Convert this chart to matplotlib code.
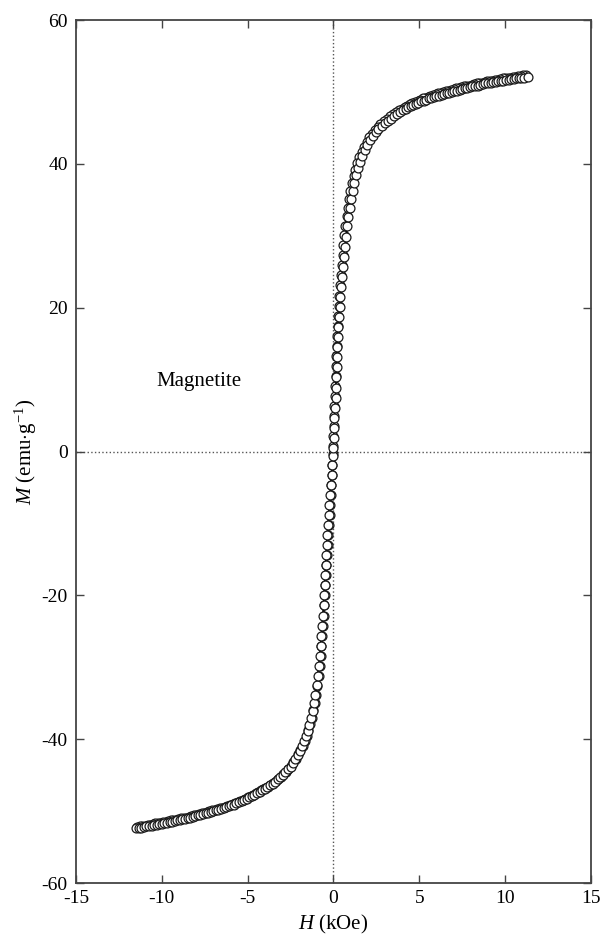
import matplotlib
matplotlib.use("Agg")
import matplotlib.pyplot as plt

# magnetization loop of magnetite
# ascending sweep (-H -> +H), negative half
H_neg = [-11.50, -11.35, -11.20, -11.05, -10.90, -10.75, -10.60, -10.45, -10.30, -10.15,
         -10.00, -9.85, -9.70, -9.55, -9.40, -9.25, -9.10, -8.95, -8.80, -8.65,
         -8.50, -8.35, -8.20, -8.05, -7.90, -7.75, -7.60, -7.45, -7.30, -7.15,
         -7.00, -6.85, -6.70, -6.55, -6.40, -6.25, -6.10, -5.95, -5.80, -5.65,
         -5.50, -5.35, -5.20, -5.05, -4.90, -4.75, -4.60, -4.45, -4.30, -4.15,
         -4.00, -3.85, -3.70, -3.55, -3.40, -3.25, -3.10, -2.95, -2.80, -2.65,
         -2.50, -2.36, -2.22, -2.09, -1.96, -1.84, -1.72, -1.61, -1.50, -1.40,
         -1.31, -1.22, -1.13, -1.05, -0.98, -0.92, -0.86, -0.80, -0.75, -0.70,
         -0.66, -0.62, -0.58, -0.55, -0.52, -0.49, -0.46, -0.43, -0.40, -0.36,
         -0.32, -0.28, -0.24, -0.20, -0.15, -0.10, -0.06, -0.03]
M_neg = [-52.4, -52.3, -52.3, -52.2, -52.1, -52.1, -52.0, -51.9, -51.9, -51.8,
         -51.8, -51.7, -51.6, -51.5, -51.5, -51.4, -51.3, -51.2, -51.1, -51.1,
         -51.0, -50.9, -50.8, -50.7, -50.6, -50.5, -50.4, -50.3, -50.2, -50.1,
         -50.0, -49.9, -49.8, -49.7, -49.6, -49.4, -49.3, -49.2, -49.1, -48.9,
         -48.8, -48.6, -48.5, -48.3, -48.1, -47.9, -47.7, -47.5, -47.3, -47.1,
         -46.9, -46.7, -46.4, -46.2, -45.9, -45.6, -45.3, -45.0, -44.6, -44.2,
         -43.8, -43.3, -42.8, -42.2, -41.6, -41.0, -40.3, -39.6, -38.8, -38.0,
         -37.1, -36.1, -35.0, -33.8, -32.5, -31.2, -29.8, -28.4, -27.0, -25.6,
         -24.2, -22.8, -21.4, -20.0, -18.6, -17.2, -15.8, -14.4, -13.0, -11.6,
         -10.2, -8.8, -7.4, -6.0, -4.6, -3.2, -1.8, -0.6]

# ascending sweep, positive half
H_pos = [0.00, 0.02, 0.04, 0.06, 0.09, 0.12, 0.14, 0.16, 0.18, 0.20,
         0.22, 0.25, 0.28, 0.32, 0.36, 0.40, 0.45, 0.50, 0.55, 0.61,
         0.67, 0.73, 0.80, 0.87, 0.95, 1.03, 1.12, 1.21, 1.31, 1.42,
         1.54, 1.67, 1.81, 1.96, 2.12, 2.28, 2.45, 2.62, 2.80, 2.98,
         3.16, 3.34, 3.52, 3.70, 3.88, 4.05, 4.20, 4.35, 4.50, 4.65,
         4.80, 4.95, 5.10, 5.25, 5.40, 5.55, 5.70, 5.85, 6.00, 6.15,
         6.30, 6.45, 6.60, 6.75, 6.90, 7.05, 7.20, 7.35, 7.50, 7.65,
         7.80, 7.95, 8.10, 8.25, 8.40, 8.55, 8.70, 8.85, 9.00, 9.15,
         9.30, 9.45, 9.60, 9.75, 9.90, 10.05, 10.20, 10.35, 10.50, 10.65,
         10.80, 10.95, 11.10, 11.33]
M_pos = [0.5, 1.9, 3.3, 4.7, 6.1, 7.5, 8.9, 10.3, 11.7, 13.1,
         14.5, 15.9, 17.3, 18.7, 20.1, 21.5, 22.9, 24.3, 25.7, 27.1,
         28.5, 29.9, 31.3, 32.6, 33.9, 35.1, 36.3, 37.4, 38.4, 39.4,
         40.3, 41.1, 41.9, 42.6, 43.3, 43.9, 44.4, 44.9, 45.3, 45.7,
         46.0, 46.3, 46.6, 46.9, 47.2, 47.5, 47.7, 47.9, 48.1, 48.2,
         48.4, 48.5, 48.7, 48.8, 48.9, 49.1, 49.2, 49.3, 49.4, 49.5,
         49.6, 49.7, 49.8, 49.9, 50.0, 50.1, 50.2, 50.3, 50.4, 50.5,
         50.6, 50.7, 50.8, 50.9, 50.9, 51.0, 51.1, 51.2, 51.2, 51.3,
         51.4, 51.4, 51.5, 51.6, 51.6, 51.7, 51.7, 51.8, 51.8, 51.9,
         51.9, 52.0, 52.0, 52.1]

# descending sweep (+H -> -H)
H_down = [11.20, 11.05, 10.90, 10.75, 10.60, 10.45, 10.30, 10.15, 10.00, 9.85,
          9.70, 9.55, 9.40, 9.25, 9.10, 8.95, 8.80, 8.65, 8.50, 8.35,
          8.20, 8.05, 7.90, 7.75, 7.60, 7.45, 7.30, 7.15, 7.00, 6.85,
          6.70, 6.55, 6.40, 6.25, 6.10, 5.95, 5.80, 5.65, 5.50, 5.35,
          5.20, 5.05, 4.90, 4.75, 4.60, 4.45, 4.30, 4.15, 4.00, 3.82,
          3.64, 3.46, 3.28, 3.10, 2.92, 2.74, 2.57, 2.40, 2.24, 2.08,
          1.93, 1.78, 1.64, 1.51, 1.39, 1.27, 1.17, 1.07, 0.98, 0.90,
          0.83, 0.76, 0.70, 0.64, 0.58, 0.53, 0.48, 0.43, 0.39, 0.35,
          0.31, 0.27, 0.24, 0.21, 0.18, 0.16, 0.14, 0.12, 0.10, 0.08,
          0.06, 0.04, 0.02, 0.00, -0.02, -0.04, -0.06, -0.09, -0.12, -0.15,
          -0.18, -0.22, -0.26, -0.30, -0.34, -0.37, -0.41, -0.44, -0.47, -0.50,
          -0.53, -0.57, -0.61, -0.65, -0.70, -0.75, -0.80, -0.86, -0.93, -1.00,
          -1.08, -1.17, -1.26, -1.36, -1.46, -1.57, -1.68, -1.80, -1.93, -2.06,
          -2.20, -2.34, -2.48, -2.62, -2.77, -2.92, -3.07, -3.22, -3.37, -3.52,
          -3.67, -3.82, -3.97, -4.08, -4.23, -4.38, -4.53, -4.68, -4.83, -4.98,
          -5.13, -5.28, -5.43, -5.58, -5.73, -5.88, -6.03, -6.18, -6.33, -6.48,
          -6.63, -6.78, -6.93, -7.08, -7.23, -7.38, -7.53, -7.68, -7.83, -7.98,
          -8.13, -8.28, -8.43, -8.58, -8.73, -8.88, -9.03, -9.18, -9.33, -9.48,
          -9.63, -9.78, -9.93, -10.08, -10.23, -10.38, -10.53, -10.68, -10.83, -10.98,
          -11.13, -11.28, -11.43]
M_down = [52.3, 52.3, 52.2, 52.2, 52.1, 52.1, 52.0, 52.0, 51.9, 51.9,
          51.8, 51.7, 51.7, 51.6, 51.5, 51.5, 51.4, 51.3, 51.2, 51.2,
          51.1, 51.0, 50.9, 50.8, 50.8, 50.7, 50.6, 50.5, 50.4, 50.3,
          50.2, 50.1, 50.0, 49.9, 49.8, 49.7, 49.6, 49.5, 49.3, 49.2,
          49.1, 48.9, 48.8, 48.6, 48.5, 48.3, 48.1, 47.9, 47.7, 47.5,
          47.2, 46.9, 46.6, 46.3, 45.9, 45.5, 45.1, 44.7, 44.2, 43.7,
          43.1, 42.4, 41.7, 40.9, 40.1, 39.2, 38.3, 37.3, 36.2, 35.1,
          33.9, 32.7, 31.4, 30.1, 28.7, 27.3, 25.9, 24.5, 23.1, 21.7,
          20.3, 18.9, 17.5, 16.1, 14.7, 13.3, 11.9, 10.5, 9.1, 7.7,
          6.3, 4.9, 3.5, 2.1, 0.8, -0.4, -1.8, -3.2, -4.6, -6.0,
          -7.4, -8.8, -10.2, -11.6, -13.0, -14.4, -15.8, -17.2, -18.6, -20.0,
          -21.4, -22.8, -24.2, -25.6, -27.0, -28.4, -29.8, -31.2, -32.6, -33.8,
          -35.0, -36.0, -37.0, -37.9, -38.7, -39.5, -40.2, -40.9, -41.5, -42.1,
          -42.7, -43.2, -43.7, -44.1, -44.5, -44.9, -45.2, -45.5, -45.8, -46.1,
          -46.3, -46.6, -46.8, -46.9, -47.1, -47.3, -47.5, -47.7, -47.9, -48.1,
          -48.3, -48.5, -48.6, -48.8, -48.9, -49.0, -49.1, -49.3, -49.4, -49.5,
          -49.6, -49.7, -49.8, -49.9, -50.0, -50.1, -50.2, -50.3, -50.4, -50.5,
          -50.6, -50.7, -50.8, -50.9, -50.9, -51.0, -51.1, -51.2, -51.3, -51.3,
          -51.4, -51.5, -51.5, -51.6, -51.7, -51.7, -51.8, -51.9, -51.9, -52.0,
          -52.1, -52.1, -52.2]

x_ticks = [-15, -10, -5, 0, 5, 10, 15]
y_ticks = [-60, -40, -20, 0, 20, 40, 60]

plt.rcParams['font.family'] = ['Liberation Serif', 'DejaVu Serif']
plt.rcParams['mathtext.fontset'] = 'custom'
plt.rcParams['mathtext.rm'] = 'Liberation Serif'
plt.rcParams['mathtext.it'] = 'Liberation Serif:italic'
plt.rcParams['axes.unicode_minus'] = False

fig = plt.figure(figsize=(6.03, 9.39), dpi=100)
ax = fig.add_axes([0.126, 0.0596, 0.854, 0.919])

H_up = H_neg + H_pos
M_up = M_neg + M_pos

ax.axhline(0, color='#555555', linestyle=':', linewidth=1.0, zorder=1)
ax.axvline(0, color='#555555', linestyle=':', linewidth=1.0, zorder=1)
style = dict(color='black', linewidth=1.3, marker='o', markersize=6.4,
             markerfacecolor='white', markeredgecolor='#1a1a1a',
             markeredgewidth=0.9, zorder=3)
ax.plot(H_down, M_down, **style)
ax.plot(H_up, M_up, **style)

ax.text(-10.3, 9.7, 'Magnetite', fontsize=15, ha='left', va='center')

ax.set_xlim(-15, 15)
ax.set_ylim(-60, 60)
ax.set_xticks(x_ticks)
ax.set_yticks(y_ticks)
ax.tick_params(direction='in', length=6, width=1.0, top=True, right=True,
               labelsize=14, color='#444444')
ax.tick_params(axis='x', pad=5)
ax.tick_params(axis='y', pad=6)
for s in ax.spines.values():
    s.set_color('#444444')
    s.set_linewidth(1.3)

ax.set_xlabel(r'$\it{H}$ (kOe)', fontsize=15, labelpad=4)
ax.set_ylabel(r'$\it{M}$ (emu$\cdot$g$^{-1}$)', fontsize=15, labelpad=2)

fig.savefig('out.png', dpi=100)
plt.close(fig)
